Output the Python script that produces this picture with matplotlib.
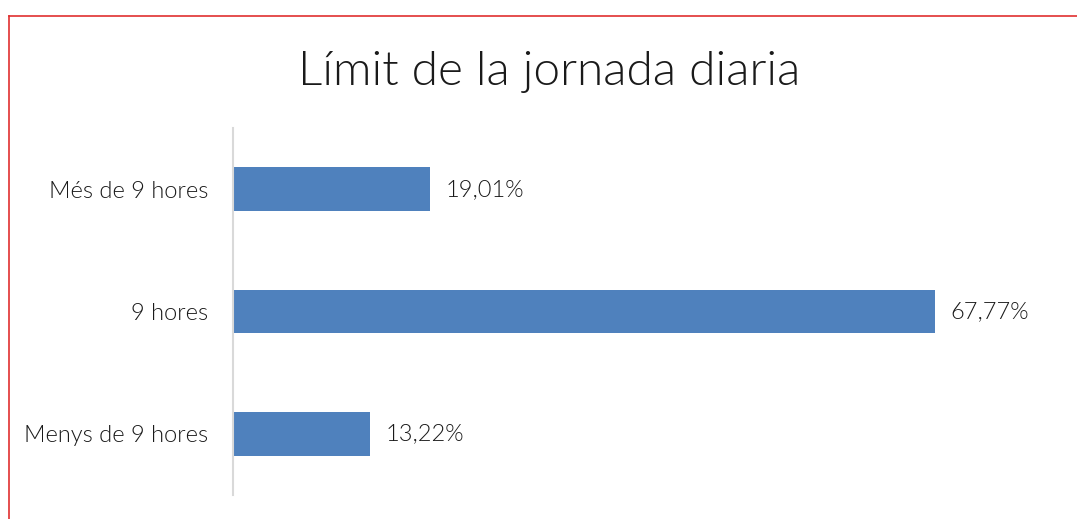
import matplotlib.pyplot as plt
from matplotlib.lines import Line2D

# data
categories = ["Menys de 9 hores", "9 hores", "Més de 9 hores"]
values = [13.22, 67.77, 19.01]
labels = ["13,22%", "67,77%", "19,01%"]

plt.rcParams['font.family'] = ['Lato', 'DejaVu Sans']
txt_color = '#1a1a1a'
wt = 300

fig = plt.figure(figsize=(10.77, 5.19), dpi=100)
ax = fig.add_axes([0.2163, 0.0462, 0.7697, 0.7071])

bar_color = "#4F81BD"
ax.barh(range(len(categories)), values, height=0.355, color=bar_color)

for i, (v, lab) in enumerate(zip(values, labels)):
    ax.text(v + 1.5, i, lab, va='center', ha='left', fontsize=17,
            fontweight=wt, color=txt_color)

ax.set_xlim(0, 80)
ax.set_ylim(-0.5, len(categories) - 0.5)
ax.set_yticks(range(len(categories)))
ax.set_yticklabels(categories, fontsize=17, fontweight=wt, color=txt_color)
ax.tick_params(axis='y', length=0, pad=18)
ax.set_xticks([])

for side in ['top', 'right', 'bottom']:
    ax.spines[side].set_visible(False)
ax.spines['left'].set_color('#D9D9D9')
ax.spines['left'].set_linewidth(1.5)

fig.text(0.51, 0.862, "Límit de la jornada diaria", ha='center', va='center',
         fontsize=34.5, fontweight=wt, color=txt_color)

# red frame (only left and top visible inside the picture)
x0 = 8.5 / 1077
y0 = 1 - 15.5 / 519
fig.add_artist(Line2D([x0, x0], [0, y0], color='#E03030', lw=1.2, transform=fig.transFigure))
fig.add_artist(Line2D([x0, 1], [y0, y0], color='#E03030', lw=1.2, transform=fig.transFigure))

fig.savefig("out.png", dpi=100)
